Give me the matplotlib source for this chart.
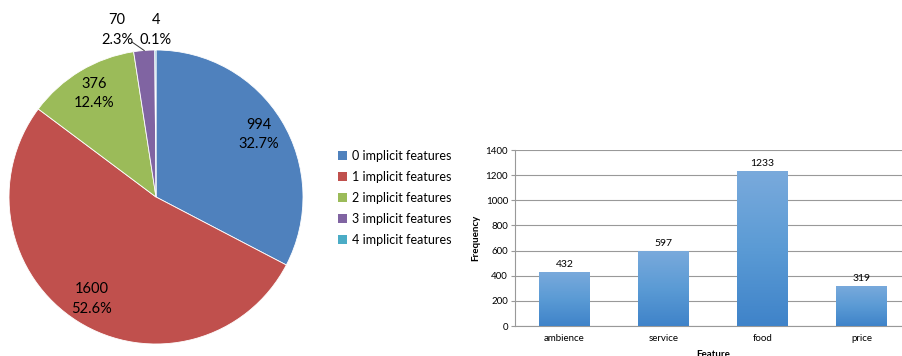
import numpy as np
import matplotlib.pyplot as plt
from matplotlib.colors import LinearSegmentedColormap
from matplotlib.patches import Patch

plt.rcParams['font.family'] = ['Lato', 'DejaVu Sans']

# implicit feature counts per sentence
pie_labels = ['0 implicit features', '1 implicit features', '2 implicit features',
              '3 implicit features', '4 implicit features']
pie_counts = [994, 1600, 376, 70, 4]
pie_colors = ['#4f81bd', '#c0504d', '#9bbb59', '#8064a2', '#4bacc6']

# frequency per feature category
bar_cats = ['ambience', 'service', 'food', 'price']
bar_vals = [432, 597, 1233, 319]

fig = plt.figure(figsize=(9.02, 3.56), dpi=100)

# ---- pie ----
ax1 = fig.add_axes([9 / 902, 12 / 356, 294 / 902, 294 / 356])
wedges, _ = ax1.pie(pie_counts, colors=pie_colors, startangle=90, counterclock=False,
                    radius=1.0, wedgeprops=dict(edgecolor='white', linewidth=0.6))
ax1.set_xlim(-1, 1)
ax1.set_ylim(-1, 1)
ax1.set_aspect('equal')

total = sum(pie_counts)
for i, (w, n) in enumerate(zip(wedges, pie_counts)):
    mid = np.deg2rad((w.theta1 + w.theta2) / 2)
    txt = f"{n}\n{100 * n / total:.1f}%"
    if n / total > 0.05:
        x, y = 0.82 * np.cos(mid), 0.82 * np.sin(mid)
        ax1.text(x, y, txt, ha='center', va='center', fontsize=10.5, linespacing=1.5)
    else:
        # small slices get their labels above the pie
        x = -0.265 if i == 3 else 0.0
        ax1.text(x, 1.135, txt, ha='center', va='center', fontsize=10.5,
                 linespacing=1.5, clip_on=False)
        if i == 3:
            ax1.plot([-0.163, np.cos(mid)], [1.054, np.sin(mid)], color='#333333',
                     lw=0.7, clip_on=False)

handles = [Patch(facecolor=c, edgecolor='none') for c in pie_colors]
fig.legend(handles, pie_labels, loc='upper left', bbox_to_anchor=(333 / 902, 1 - 145 / 356),
           frameon=False, fontsize=9, handlelength=0.7, handleheight=0.7,
           handletextpad=0.4, labelspacing=0.72, borderaxespad=0)

# ---- bars ----
ax2 = fig.add_axes([515 / 902, 30 / 356, 396 / 902, 176 / 356])
x = np.arange(len(bar_cats))
bars = ax2.bar(x, bar_vals, width=0.515, color='#5b9bd5', zorder=2)
ax2.set_xlim(-0.5, len(bar_cats) - 0.5)
ax2.set_ylim(0, 1400)
ax2.set_yticks(range(0, 1401, 200))

grad = LinearSegmentedColormap.from_list('barfill', ['#3f83c9', '#5b9bd5', '#7aaadc'])
g = np.linspace(0, 1, 256).reshape(-1, 1)
for b in bars:
    x0, y0, bw, bh = b.get_x(), b.get_y(), b.get_width(), b.get_height()
    im = ax2.imshow(g, cmap=grad, origin='lower', aspect='auto',
                    extent=[x0, x0 + bw, y0, y0 + bh], zorder=3)
    im.set_clip_path(b)
    ax2.text(x0 + bw / 2, bh + 25, str(int(bh)), ha='center', va='bottom', fontsize=7.5)

ax2.set_xticks(x)
ax2.set_xticklabels(bar_cats)
ax2.grid(axis='y', color='#999999', lw=0.8, zorder=0)
for s in ['top', 'right']:
    ax2.spines[s].set_visible(False)
for s in ['left', 'bottom']:
    ax2.spines[s].set_color('#999999')
ax2.tick_params(axis='y', labelsize=7, length=3, color='#999999', pad=2)
ax2.tick_params(axis='x', labelsize=7, length=0, pad=6)
ax2.set_ylabel('Frequency', fontsize=7, fontweight='bold', labelpad=4)
ax2.set_xlabel('Feature', fontsize=7, fontweight='bold', labelpad=5)

fig.savefig('out.png', dpi=100)
